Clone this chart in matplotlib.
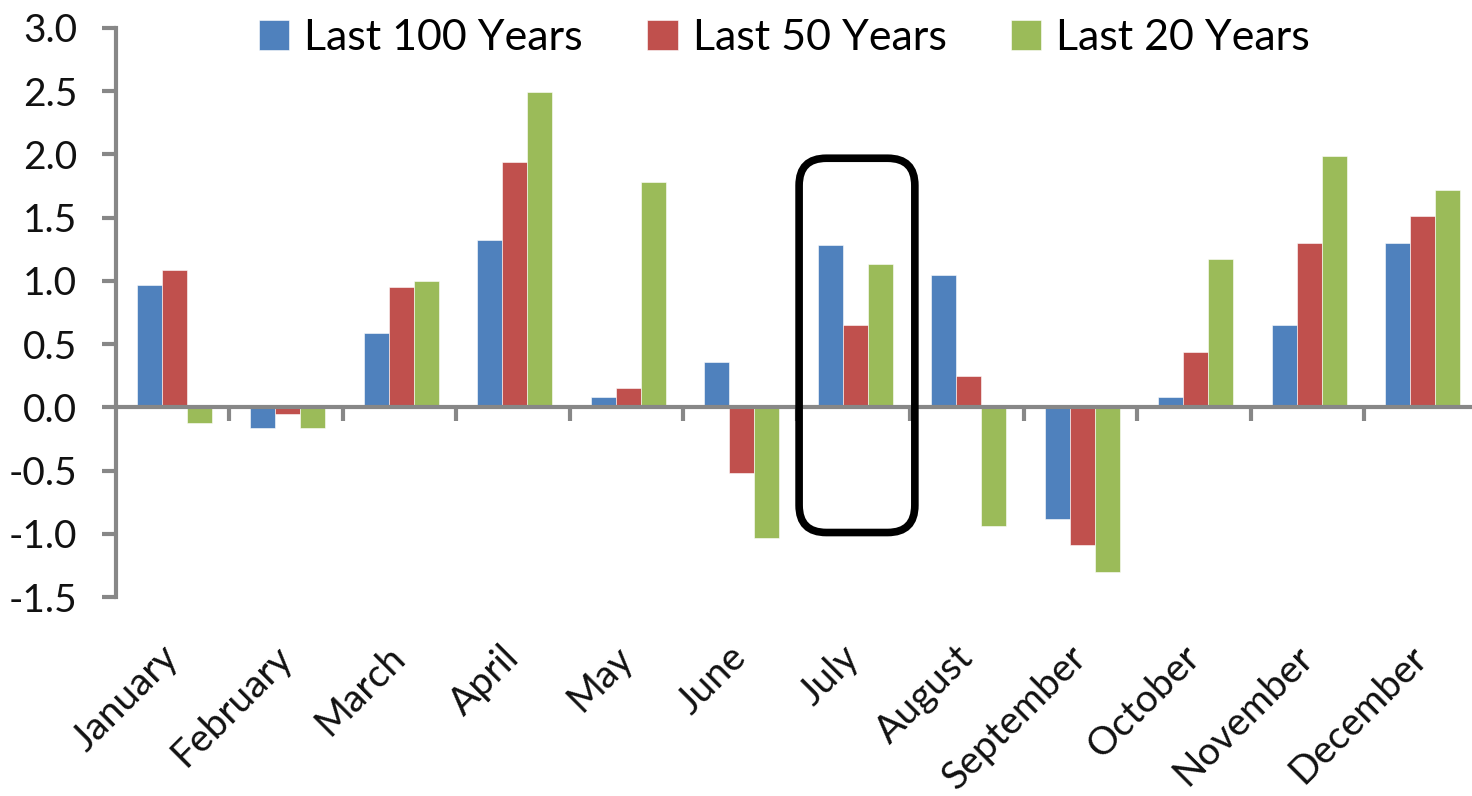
import matplotlib
matplotlib.use("Agg")
import matplotlib.pyplot as plt
import numpy as np
from matplotlib.patches import FancyBboxPatch

months = ["January", "February", "March", "April", "May", "June",
          "July", "August", "September", "October", "November", "December"]
last_100 = [0.97, -0.16, 0.59, 1.32, 0.08, 0.36, 1.28, 1.05, -0.88, 0.08, 0.65, 1.30]
last_50 = [1.09, -0.05, 0.95, 1.94, 0.15, -0.52, 0.65, 0.25, -1.09, 0.44, 1.30, 1.51]
last_20 = [-0.12, -0.16, 1.00, 2.49, 1.78, -1.03, 1.13, -0.94, -1.30, 1.17, 1.99, 1.72]
series_names = ["Last 100 Years", "Last 50 Years", "Last 20 Years"]
colors = ["#4F81BD", "#C0504D", "#9BBB59"]

plt.rcParams["font.family"] = ["Lato", "DejaVu Sans"]
plt.rcParams["axes.unicode_minus"] = False

GRAY = "#878787"

fig = plt.figure(figsize=(14.72, 7.96), dpi=100)
ax = fig.add_axes([116 / 1472, 199 / 796, 1 - 116 / 1472, 569 / 796])

x = np.arange(len(months))
w = 0.22
for k, (vals, name, col) in enumerate(zip([last_100, last_50, last_20], series_names, colors)):
    ax.bar(x + (k - 1) * w + 0.015, vals, width=w, color=col, label=name,
           edgecolor="white", linewidth=0.4)

ax.set_xlim(-0.5, 11.45)
ax.set_ylim(-1.5, 3.0)
ax.set_yticks(np.arange(-1.5, 3.01, 0.5))
ax.yaxis.set_major_formatter(matplotlib.ticker.FormatStrFormatter("%.1f"))

for s in ["top", "right"]:
    ax.spines[s].set_visible(False)
ax.spines["left"].set_color(GRAY)
ax.spines["left"].set_linewidth(3)
ax.spines["bottom"].set_position(("data", 0))
ax.spines["bottom"].set_color(GRAY)
ax.spines["bottom"].set_linewidth(3)

ax.tick_params(axis="y", direction="out", length=10, width=3, color=GRAY,
               labelsize=28, pad=18, labelcolor="#111111")
ax.set_xticks(x)
ax.set_xticks(np.arange(0.5, 11.5, 1.0), minor=True)
ax.tick_params(axis="x", which="major", length=0, pad=176, labelsize=28,
               labelcolor="#111111")
ax.tick_params(axis="x", which="minor", direction="out", length=10, width=3, color=GRAY)
ax.set_xticklabels(months, rotation=45, ha="right", va="center", rotation_mode="anchor")

# rounded box highlighting July
box = FancyBboxPatch((5.52, -0.99), 1.02, 2.96,
                     boxstyle="round,pad=0,rounding_size=0.24",
                     mutation_aspect=113.5 / 126.6,
                     facecolor="none", edgecolor="black", linewidth=5.5, zorder=5)
ax.add_patch(box)

fig.legend(loc="center", bbox_to_anchor=(0.533, 0.952), ncol=3, frameon=False,
           fontsize=31, handlelength=0.7, handleheight=0.7, handletextpad=0.35,
           columnspacing=1.5)

fig.savefig("out.png", dpi=100, facecolor="white")
